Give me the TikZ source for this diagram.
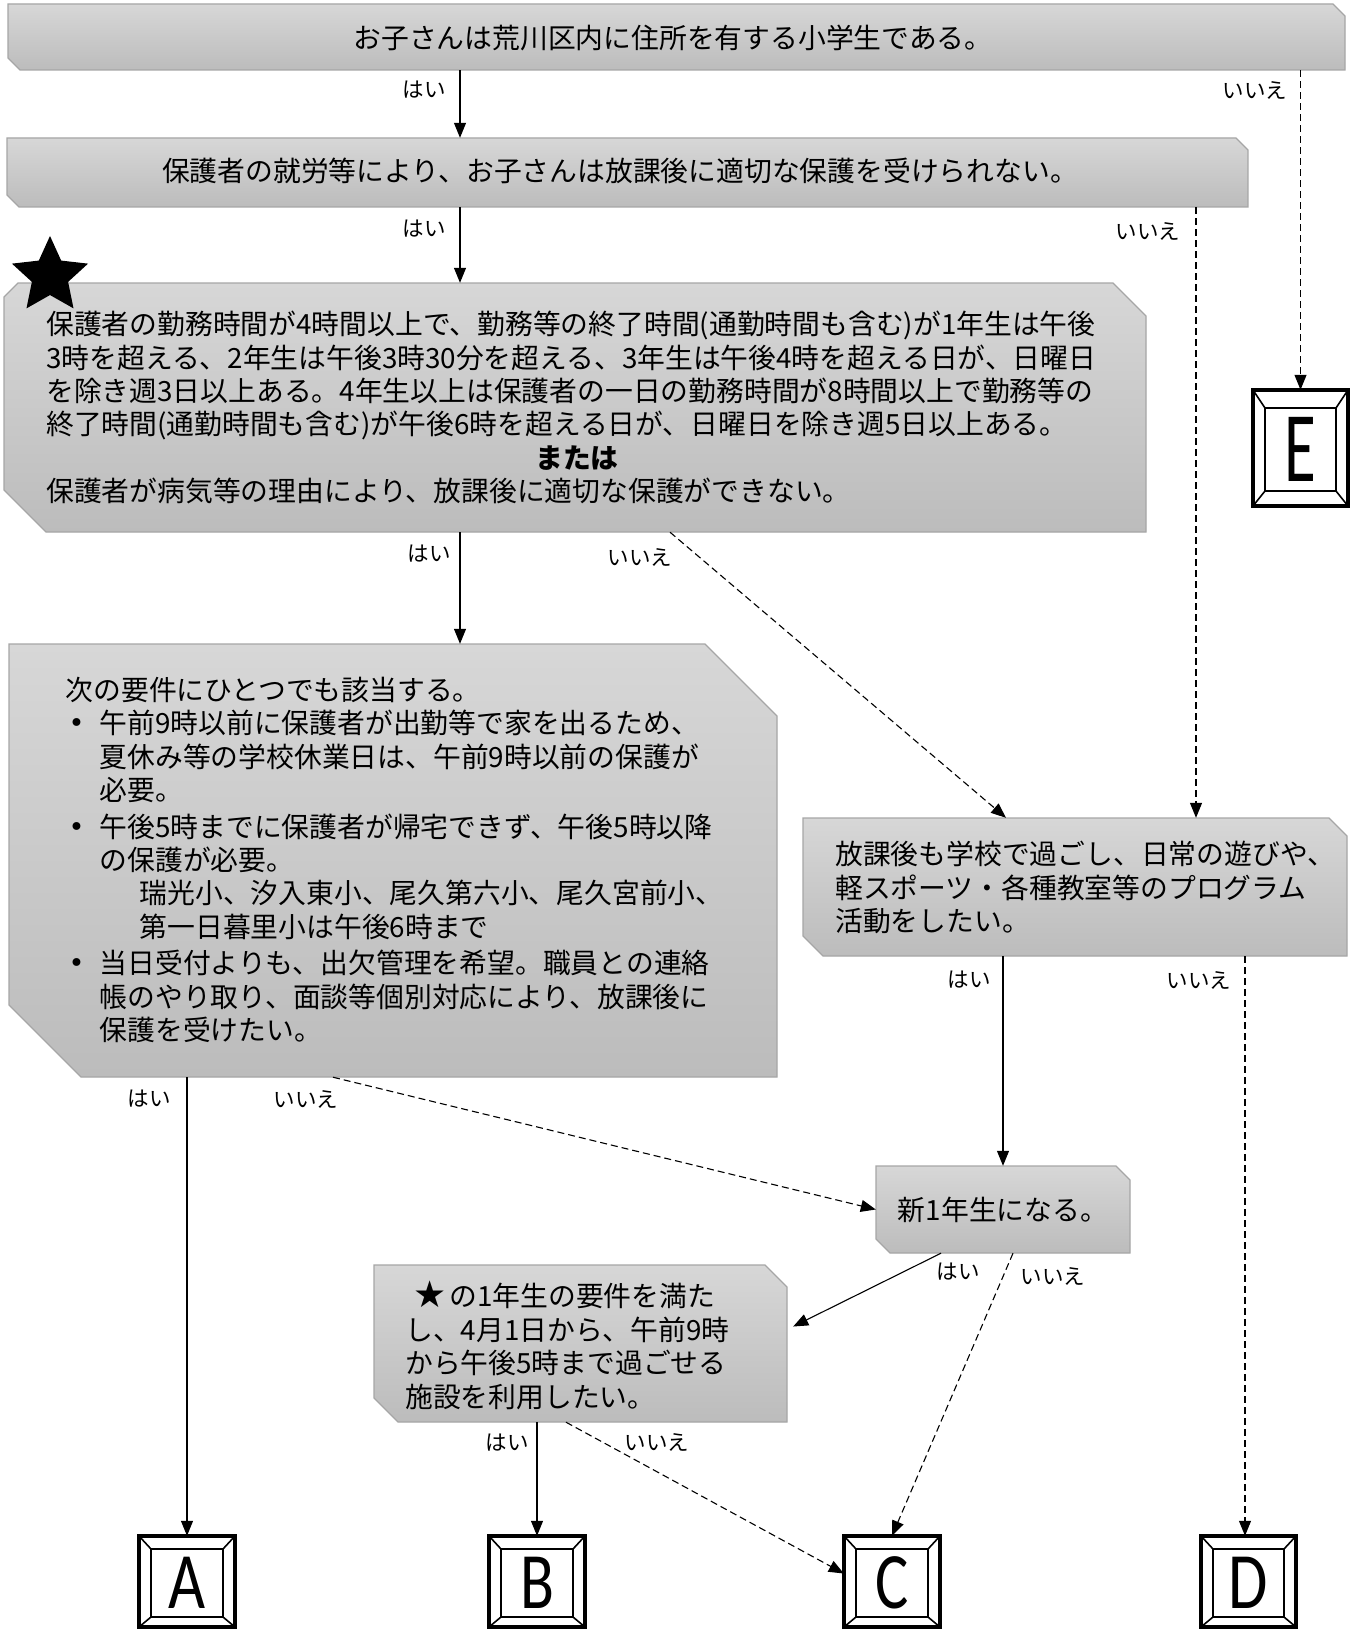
\documentclass[tikz,border=0pt]{standalone}
\usepackage{fontspec}
\setmainfont{Noto Sans CJK JP}
\newfontfamily\djv{DejaVu Sans}
\newfontfamily\carl{Carlito}
\usetikzlibrary{arrows.meta,shapes.geometric,fit,calc}
\definecolor{gtop}{HTML}{D7D7D7}
\definecolor{gbot}{HTML}{BCBCBC}
\definecolor{boxline}{HTML}{A6A6A6}
\newcommand\bul{\makebox[31pt][l]{\raisebox{1pt}{\djv\fontsize{27}{27}\selectfont •}}}
\tikzset{
  gbox/.style={draw=boxline, line width=1.3pt, top color=gtop, bottom color=gbot},
  yesarr/.style={draw=black, line width=1.1pt, -{Triangle[length=15pt,width=12pt]}},
  noarr/.style={yesarr, dash pattern=on 7pt off 4pt},
  lbl/.style={font=\fontsize{21.5}{21.5}\selectfont, inner sep=0},
  txt/.style={font=\fontsize{27.8}{33.4}\selectfont, inner sep=0, align=left},
}
% name x1 y1 x2 y2 tl tr bl br
\newcommand\snipbox[9]{%
  \draw[gbox] (#2,{#3+#6}) -- ({#2+#6},#3) -- ({#4-#7},#3) -- (#4,{#3+#7})
     -- (#4,{#5-#9}) -- ({#4-#9},#5) -- ({#2+#8},#5) -- (#2,{#5-#8}) -- cycle;
  \node[fit={(#2,#3)(#4,#5)}, inner sep=0] (#1) {};
}
% name x1 y1 x2 y2 topinset bottominset fontsize letter
\newcommand\bevelbox[9]{%
  \node[fit={(#2,#3)(#4,#5)}, inner sep=0] (#1) {};
  \draw[line width=3.2pt, fill=white] (#2,#3) rectangle (#4,#5);
  \draw[line width=1.6pt] (#2,#3) -- ({#2+12},{#3+#6}) (#4,#3) -- ({#4-12},{#3+#6})
     (#2,#5) -- ({#2+12},{#5-#7}) (#4,#5) -- ({#4-12},{#5-#7});
  \draw[line width=2.2pt] ({#2+12},{#3+#6}) rectangle ({#4-12},{#5-#7});
  \node[inner sep=0] (#1t) at ($(#1.center)+(0,{(#6-#7)/2})$) {\carl\fontsize{#8}{#8}\selectfont #9};
}
\begin{document}
\begin{tikzpicture}[x=1pt,y=-1pt]
\useasboundingbox (0,0) rectangle (1349,1629);
\fill[white] (0,0) rectangle (1349,1629);

% boxes
\snipbox{b1}{8}{4}{1345}{70}{0}{12}{12}{0}
\snipbox{b2}{7}{138}{1248}{207}{0}{12}{12}{0}
\snipbox{b3}{4}{283}{1146}{532}{14}{33}{42}{0}
\snipbox{b4}{9}{644}{777}{1077}{0}{72}{72}{0}
\snipbox{b5}{803}{818}{1347}{956}{0}{18}{20}{0}
\snipbox{b6}{876}{1166}{1130}{1253}{0}{14}{14}{0}
\snipbox{b7}{374}{1265}{787}{1422}{0}{22}{24}{0}

\bevelbox{E}{1253}{390}{1348}{506}{18}{15}{100}{\scalebox{0.65}[1]{E}}
\bevelbox{A}{139}{1536}{235}{1627}{13}{10}{80}{\scalebox{0.8}[1]{A}}
\bevelbox{B}{489}{1536}{585}{1627}{13}{10}{80}{\scalebox{0.78}[1]{B}}
\bevelbox{C}{844}{1536}{940}{1627}{13}{10}{80}{\scalebox{0.78}[1]{C}}
\bevelbox{D}{1201}{1536}{1296}{1627}{13}{10}{80}{\scalebox{0.8}[1]{D}}

\node[star, star points=5, star point ratio=2.1, fill=black, inner sep=0, minimum size=80pt] (star) at (50,276) {};

% texts
\node[txt] (t1) at (673,38) {お子さんは荒川区内に住所を有する小学生である。};
\node[txt] (t2) at (620,171) {保護者の就労等により、お子さんは放課後に適切な保護を受けられない。};
\node[txt, anchor=north west] (t3a) at (46,311) {保護者の勤務時間が4時間以上で、勤務等の終了時間(通勤時間も含む)が1年生は午後\\
3時を超える、2年生は午後3時30分を超える、3年生は午後4時を超える日が、日曜日\\
を除き週3日以上ある。4年生以上は保護者の一日の勤務時間が8時間以上で勤務等の\\
終了時間(通勤時間も含む)が午後6時を超える日が、日曜日を除き週5日以上ある。};
\node[txt, font=\fontsize{27.8}{33.4}\selectfont\bfseries] (t3b) at (577,458) {または};
\node[txt, anchor=west] (t3c) at (46,490.5) {保護者が病気等の理由により、放課後に適切な保護ができない。};

\node[txt, anchor=north west] (t4) at (65.5,677) {次の要件にひとつでも該当する。\\
\hspace*{3pt}\bul 午前9時以前に保護者が出勤等で家を出るため、\\
\hspace*{34pt}夏休み等の学校休業日は、午前9時以前の保護が\\
\hspace*{34pt}必要。\\[3pt]
\hspace*{3pt}\bul 午後5時までに保護者が帰宅できず、午後5時以降\\
\hspace*{34pt}の保護が必要。\\
\hspace*{74pt}瑞光小、汐入東小、尾久第六小、尾久宮前小、\\
\hspace*{74pt}第一日暮里小は午後6時まで\\[3pt]
\hspace*{3pt}\bul 当日受付よりも、出欠管理を希望。職員との連絡\\
\hspace*{34pt}帳のやり取り、面談等個別対応により、放課後に\\
\hspace*{34pt}保護を受けたい。};

\node[txt, anchor=north west] (t5) at (835,841) {放課後も学校で過ごし、日常の遊びや、\\
軽スポーツ・各種教室等のプログラム\\
活動をしたい。};

\node[txt] (t6) at (1003,1210) {新1年生になる。};

\node[txt, anchor=north west] (t7) at (405,1281) {\hspace*{8pt}{\djv\fontsize{37}{33}\selectfont\raisebox{-1pt}{★}}\hspace{3pt}の1年生の要件を満た\\
し、4月1日から、午前9時\\
から午後5時まで過ごせる\\
施設を利用したい。};

% connectors
\coordinate (xm) at (460,0);
\coordinate (xr) at (1196,0);
\coordinate (xd) at (1245,0);
\coordinate (p1) at (670,0);
\coordinate (p2) at (1006,0);
\coordinate (p3) at (333,0);
\coordinate (p4) at (941,0);
\coordinate (p5) at (1013,0);
\coordinate (p6) at (566,0);

\draw[yesarr] (b1.south -| xm) -- (b2.north -| xm);
\draw[noarr] (b1.south -| E.north) -- (E.north);
\draw[yesarr] (b2.south -| xm) -- (b3.north -| xm);
\draw[noarr] (b2.south -| xr) -- (b5.north -| xr);
\draw[yesarr] (b3.south -| xm) -- (b4.north -| xm);
\draw[noarr] (b3.south -| p1) -- (b5.north -| p2);
\draw[yesarr] (b4.south -| A.north) -- (A.north);
\draw[noarr] (b4.south -| p3) -- (b6.west);
\draw[yesarr] (b5.south -| b6.north) -- (b6.north);
\draw[noarr] (b5.south -| xd) -- (D.north -| xd);
\draw[yesarr] (b6.south -| p4) -- ($(b7.east)+(6,-17)$);
\draw[noarr] (b6.south -| p5) -- (C.north);
\draw[yesarr] (b7.south -| B.north) -- (B.north);
\draw[noarr] (b7.south -| p6) -- ($(C.west)+(0,-8)$);

% labels
\node[lbl] (l1) at (424,90) {はい};
\node[lbl] (l2) at (1255,90) {いいえ};
\node[lbl] (l3) at (424,229) {はい};
\node[lbl] (l4) at (1148,231) {いいえ};
\node[lbl] (l5) at (429,554) {はい};
\node[lbl] (l6) at (640,557) {いいえ};
\node[lbl] (l7) at (149,1099) {はい};
\node[lbl] (l8) at (306,1099) {いいえ};
\node[lbl] (l9) at (969,980) {はい};
\node[lbl] (l10) at (1199,980) {いいえ};
\node[lbl] (l11) at (958,1272) {はい};
\node[lbl] (l12) at (1053,1276) {いいえ};
\node[lbl] (l13) at (507,1443) {はい};
\node[lbl] (l14) at (657,1442) {いいえ};
\end{tikzpicture}
\end{document}
